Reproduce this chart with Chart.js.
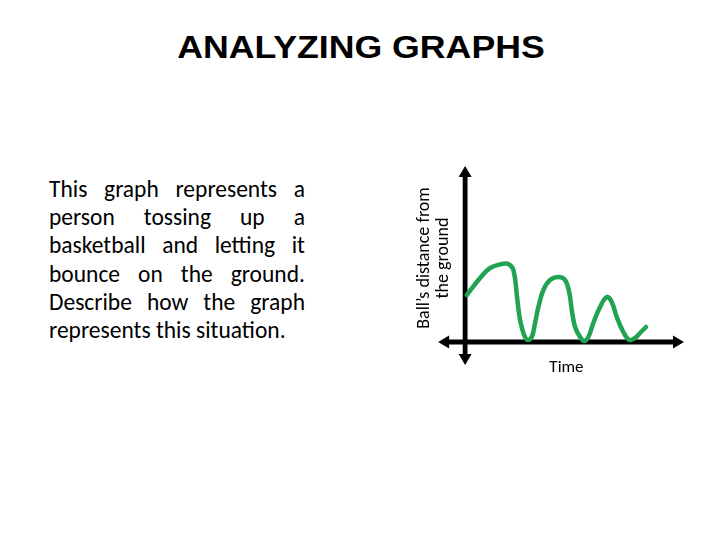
<!DOCTYPE html>
<html>
<head>
<meta charset="utf-8">
<script src="https://cdn.jsdelivr.net/npm/chart.js@4"></script>
<style>
  html, body { margin: 0; padding: 0; background: #fff; width: 720px; height: 540px; overflow: hidden; }
  #wrap { position: relative; width: 720px; height: 540px; }
  #chart { position: absolute; left: 0; top: 0; }
  #title { position: absolute; left: 1px; top: 31.5px; width: 720px; text-align: center;
           font-family: "Liberation Sans", Arial, sans-serif; font-weight: bold; font-size: 30.5px;
           line-height: 30.5px; color: #000; white-space: nowrap; }
  #title span { display: inline-block; transform: scaleX(1.17); transform-origin: center; }
  #para { position: absolute; left: 49px; top: 174.9px; width: 256px;
          font-family: Carlito, Lato, sans-serif; font-size: 23.5px; color: #000; }
  #para div { height: 28.3px; line-height: 28.3px; white-space: nowrap;
              text-align: justify; text-align-last: justify; }
  #para div.last { text-align: left; text-align-last: left; }
</style>
</head>
<body>
<div id="wrap">
  <div id="title"><span>ANALYZING GRAPHS</span></div>
  <div id="para">
    <div>This graph represents a</div>
    <div>person tossing up a</div>
    <div>basketball and letting it</div>
    <div>bounce on the ground.</div>
    <div>Describe how the graph</div>
    <div class="last">represents this situation.</div>
  </div>
  <canvas id="chart" width="720" height="540"></canvas>
</div>
<script>
// ---- data ----
const timeValues = [0.17, 1.5, 2.5, 3.67, 4.33, 4.83, 5.23, 5.5, 5.9, 6.27, 6.67, 7.0, 7.33, 7.83, 8.5, 9.33, 10.0, 10.43, 10.67, 11.0, 11.5, 11.9, 12.33, 12.83, 13.5, 14.17, 14.67, 15.17, 15.83, 16.43, 17.0, 17.5, 18.1];
const distanceValues = [4.7, 6.4, 7.4, 7.8, 7.8, 7.2, 4.2, 2.2, 0.7, 0.2, 0.5, 1.9, 3.5, 5.2, 6.2, 6.5, 6.2, 4.9, 3.2, 1.5, 0.5, 0.1, 0.5, 1.9, 3.5, 4.5, 4.0, 2.5, 1.0, 0.2, 0.4, 0.9, 1.5];
const xAxisTitle = 'Time';
const yAxisTitle = ['Ball\u2019s distance from', 'the ground'];
const xAxisExtent = [-2.7, 21.9];
const yAxisExtent = [-2.3, 17.6];

const points = timeValues.map((t, i) => ({ x: t, y: distanceValues[i] }));

const arrowAxes = {
  id: 'arrowAxes',
  beforeDatasetsDraw(chart) {
    const { ctx, scales: { x, y } } = chart;
    const x0 = x.getPixelForValue(0), y0 = y.getPixelForValue(0);
    const xl = x.getPixelForValue(xAxisExtent[0]), xr = x.getPixelForValue(xAxisExtent[1]);
    const yb = y.getPixelForValue(yAxisExtent[0]), yt = y.getPixelForValue(yAxisExtent[1]);
    const head = 11, half = 6.5;
    ctx.save();
    ctx.strokeStyle = '#000';
    ctx.fillStyle = '#000';
    ctx.lineWidth = 4.8;
    ctx.beginPath();
    ctx.moveTo(xl + head - 1, y0); ctx.lineTo(xr - head + 1, y0);
    ctx.moveTo(x0, yt + head - 1); ctx.lineTo(x0, yb - head + 1);
    ctx.stroke();
    const tri = (pts) => { ctx.beginPath(); ctx.moveTo(pts[0], pts[1]); ctx.lineTo(pts[2], pts[3]); ctx.lineTo(pts[4], pts[5]); ctx.closePath(); ctx.fill(); };
    tri([xl, y0, xl + head, y0 - half, xl + head, y0 + half]);
    tri([xr, y0, xr - head, y0 - half, xr - head, y0 + half]);
    tri([x0, yt, x0 - half, yt + head, x0 + half, yt + head]);
    tri([x0, yb, x0 - half, yb - head, x0 + half, yb - head]);
    ctx.restore();
  }
};

new Chart(document.getElementById('chart'), {
  type: 'line',
  data: {
    datasets: [{
      data: points,
      borderColor: 'rgb(32,163,82)',
      borderWidth: 4.5,
      pointRadius: 0,
      fill: false,
      tension: 0.4,
      borderCapStyle: 'round',
      borderJoinStyle: 'round',
      clip: false
    }]
  },
  options: {
    responsive: false,
    devicePixelRatio: 1,
    animation: false,
    layout: { padding: { left: 414.4, right: 40, top: 158, bottom: 161.6 } },
    plugins: { legend: { display: false }, tooltip: { enabled: false } },
    scales: {
      x: {
        type: 'linear', min: -1.22, max: 21.5,
        grid: { display: false, drawTicks: false },
        border: { display: false },
        ticks: { display: false },
        title: { display: true, text: xAxisTitle, color: '#000', padding: 0,
                 font: { family: 'Carlito, Lato, sans-serif', size: 17, lineHeight: 1.2 } }
      },
      y: {
        type: 'linear', min: -1.6, max: 18.4,
        grid: { display: false, drawTicks: false },
        border: { display: false },
        ticks: { display: false },
        title: { display: true, text: yAxisTitle, color: '#000', padding: 0,
                 font: { family: 'Carlito, Lato, sans-serif', size: 18, lineHeight: 1.07 } }
      }
    }
  },
  plugins: [arrowAxes]
});
</script>
</body>
</html>
